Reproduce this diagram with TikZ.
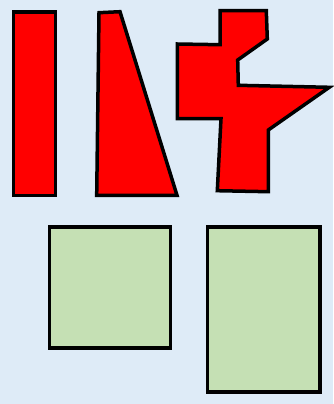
\documentclass[tikz,border=0pt]{standalone}
\definecolor{bgblue}{HTML}{DEEBF7}
\definecolor{shapered}{HTML}{FF0000}
\definecolor{boxgreen}{HTML}{C5E0B4}
\begin{document}
\begin{tikzpicture}[x=1pt,y=-1pt,
  redshape/.style={fill=shapered,draw=black,line width=3.5pt,line join=miter},
  greenbox/.style={fill=boxgreen,draw=black,line width=3.5pt,line join=miter}]
\fill[bgblue] (0,0) rectangle (333,404);
\useasboundingbox (0,0) rectangle (333,404);
% bar
\draw[redshape] (13.7,12) rectangle (55.3,195.3);
% trapezoid
\draw[redshape] (99,12.7) -- (120,11.7) -- (177,195.3) -- (96.7,195.3) -- cycle;
% irregular shape
\draw[redshape] (220,10.7) -- (266.3,10.7) -- (267.3,39) -- (237.7,60) -- (238.3,85.3)
  -- (329.3,87.3) -- (268.3,130) -- (268.3,191.7) -- (217.3,190.7) -- (221,118.7)
  -- (177.3,118.7) -- (177.3,44) -- (220,44.7) -- cycle;
% green boxes
\draw[greenbox] (49.7,227) rectangle (170.3,348);
\draw[greenbox] (207.7,227) rectangle (320,392);
\end{tikzpicture}
\end{document}
